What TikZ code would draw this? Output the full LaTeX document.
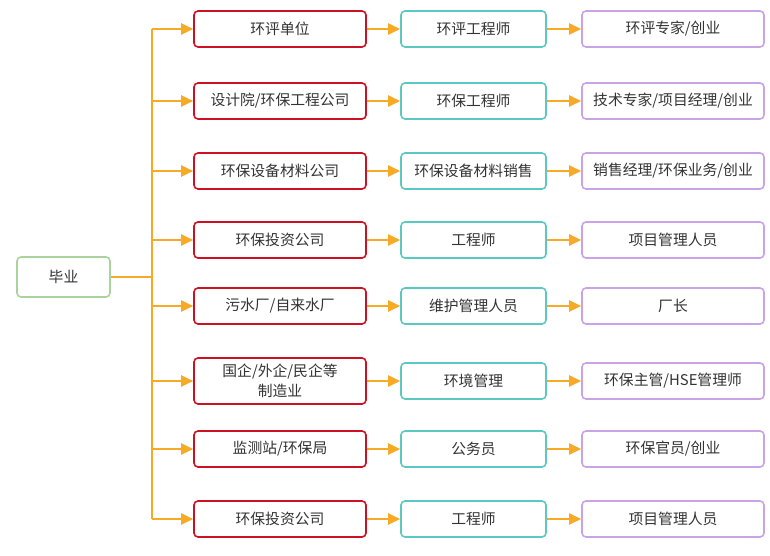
\documentclass[tikz,border=0pt]{standalone}
\usepackage{fontspec}
\setmainfont{Noto Sans CJK SC}
\usetikzlibrary{arrows.meta, positioning}

\definecolor{linkorange}{HTML}{F7AA25}
\definecolor{firmred}{HTML}{CC1122}
\definecolor{postteal}{HTML}{5CC8C2}
\definecolor{goalpurple}{HTML}{C9A3E6}
\definecolor{rootgreen}{HTML}{A8D49C}
\definecolor{textgray}{HTML}{333333}

\begin{document}
\begin{tikzpicture}[x=1pt, y=-1pt, >={Triangle[length=12pt, width=11pt]},
  box/.style={draw, line width=1.6pt, rounded corners=4pt, fill=white,
              font=\fontsize{14.8}{19.5}\selectfont, text=textgray, align=center,
              inner sep=2pt},
  firm/.style={box, draw=firmred, minimum width=172pt},
  post/.style={box, draw=postteal, minimum width=145pt},
  goal/.style={box, draw=goalpurple, minimum width=182pt},
  link/.style={->, draw=linkorange, line width=2.2pt}]
  \useasboundingbox (0,0) rectangle (770,556);

  \node[box, draw=rootgreen, minimum width=93pt, minimum height=40pt] (root) at (63.5,277) {毕业};

  % rows: firm -> post -> goal
  \foreach \i/\y/\h/\ta/\tb/\tc in {
      1/29/36/{环评单位}/{环评工程师}/{环评专家/创业},
      2/101/36/{设计院/环保工程公司}/{环保工程师}/{技术专家/项目经理/创业},
      3/171/36/{环保设备材料公司}/{环保设备材料销售}/{销售经理/环保业务/创业},
      4/240/36/{环保投资公司}/{工程师}/{项目管理人员},
      5/306/36/{污水厂/自来水厂}/{维护管理人员}/{厂长},
      6/381/46/{国企/外企/民企等\\制造业}/{环境管理}/{环保主管/HSE管理师},
      7/449/36/{监测站/环保局}/{公务员}/{环保官员/创业},
      8/519/36/{环保投资公司}/{工程师}/{项目管理人员}} {
    \coordinate (trunk\i) at (152,\y);
    \node[firm, minimum height=\h pt] (unit\i) at (280,\y) {\ta};
    \node[post, minimum height=36pt] (job\i) at (473.5,\y) {\tb};
    \node[goal, minimum height=36pt] (goal\i) at (673,\y) {\tc};
    \draw[link] (trunk\i) -- (unit\i.west);
    \draw[link] (unit\i.east |- job\i) -- (job\i.west);
    \draw[link] (job\i.east) -- (goal\i.west);
  }

  \draw[linkorange, line width=2.2pt] (trunk1) -- (trunk8);
  \draw[linkorange, line width=2.2pt] (root.east) -- (root.east -| trunk1);
\end{tikzpicture}
\end{document}
